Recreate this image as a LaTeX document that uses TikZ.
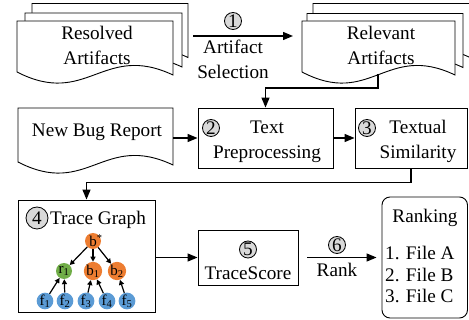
\documentclass[tikz,border=0pt]{standalone}
\usepackage{fontspec}
\setmainfont{Liberation Serif}
\usetikzlibrary{arrows.meta}
\definecolor{numgray}{HTML}{D9D9D9}
\definecolor{bugorange}{HTML}{ED7D31}
\definecolor{reqgreen}{HTML}{70AD47}
\definecolor{fileblue}{HTML}{5B9BD5}
% one sheet of a document: x, top y, width, height of the left side
\newcommand\docsheet[4]{%
  \path[docline] (#1,#2+#4) -- (#1,#2) -- (#1+#3,#2) -- (#1+#3,#2+#4+3)
    .. controls (#1+0.55*#3,#2+#4-30) and (#1+0.45*#3,#2+#4+36) .. (#1,#2+#4) -- cycle;}
\begin{document}
\begin{tikzpicture}[x=1pt,y=-1pt,
  font=\fontsize{19.2}{25}\selectfont,
  docline/.style={draw=black, line width=0.9pt, fill=white},
  box/.style={draw, line width=0.9pt, inner sep=0pt},
  conn/.style={line width=1.3pt, -{Triangle[length=10pt,width=8pt]}},
  num/.style={circle, draw, line width=0.8pt, fill=numgray, inner sep=0pt, minimum size=17pt},
  txt/.style={anchor=base, inner sep=0pt},
  tnode/.style={circle, inner sep=0pt, minimum size=16pt, font=\fontsize{15}{15}\selectfont},
  tedge/.style={line width=1.2pt, -{Triangle[length=5pt,width=5pt]}}
]
\useasboundingbox (0,0) rectangle (469,320);
\clip (0,0) rectangle (469,320);

% --- resolved artifacts (stack of three sheets)
\docsheet{32}{3.5}{156}{51}
\docsheet{25}{13}{157}{51}
\docsheet{17}{21}{156}{51}
\node[txt] (res1) at (97,40) {Resolved};
\node[txt] (res2) at (97,65) {Artifacts};

% --- relevant artifacts (stack of three sheets)
\docsheet{313}{3.5}{157}{51}
\docsheet{307}{13.5}{156}{51}
\docsheet{302}{21}{153}{51}
\node[txt] (rel1) at (381,40) {Relevant};
\node[txt] (rel2) at (381,65) {Artifacts};

% step 1: artifact selection
\coordinate (selfrom) at (193,36);
\coordinate (selto) at (293,36);
\draw[conn] (selfrom) -- (selto);
\node[num] (n1) at (233,21) {1};
\node[txt] (sel1) at (233,54) {Artifact};
\node[txt] (sel2) at (233,79) {Selection};

% --- new bug report
\docsheet{18}{108}{155}{54}
\node[inner sep=0pt, minimum width=155pt, minimum height=54pt] (nbrdoc) at (95.5,135) {};
\node[txt] (nbr) at (97,136.5) {New Bug Report};

% step 2: text preprocessing
\node[box, minimum width=135pt, minimum height=60pt] (tp) at (265.5,138) {};
\node[num] (n2) at (211,128) {2};
\node[txt] (tp1) at (267,134) {Text};
\node[txt] (tp2) at (267,159) {Preprocessing};

% step 3: textual similarity
\node[box, minimum width=112pt, minimum height=60pt] (ts) at (411,138) {};
\node[num] (n3) at (367,128) {3};
\node[txt] (ts1) at (418,134) {Textual};
\node[txt] (ts2) at (418,159) {Similarity};

% connectors of the upper part
\coordinate (relout) at (378,74);
\draw[conn] (relout) -- (378,88) -| (tp.north);
\draw[conn] (nbrdoc.east |- tp.west) -- (tp.west);
\draw[conn] (tp.east) -- (ts.west);

% step 4: trace graph
\node[box, minimum width=137pt, minimum height=112pt] (tg) at (86.5,256) {};
\node[num, minimum size=22pt] (n4) at (37,218) {4};
\node[txt] (tgl) at (98,224.5) {Trace Graph};
\draw[conn] (ts.south) -- ++(0,14) -| (tg.north);

% the graph itself
\node[tnode, fill=bugorange] (bs) at (93,241) {b\rlap{\textsuperscript{*}}};
\node[tnode, fill=reqgreen] (r1) at (64,271) {r\textsubscript{1}};
\node[tnode, fill=bugorange] (b1) at (93,271) {b\textsubscript{1}};
\node[tnode, fill=bugorange] (b2) at (117,271) {b\textsubscript{2}};
\node[tnode, fill=fileblue] (f1) at (45,301) {f\textsubscript{1}};
\node[tnode, fill=fileblue] (f2) at (65,301) {f\textsubscript{2}};
\node[tnode, fill=fileblue] (f3) at (86,301) {f\textsubscript{3}};
\node[tnode, fill=fileblue] (f4) at (107,301) {f\textsubscript{4}};
\node[tnode, fill=fileblue] (f5) at (127,301) {f\textsubscript{5}};
\draw[tedge] (bs) -- (r1);
\draw[tedge] (bs) -- (b1);
\draw[tedge] (bs) -- (b2);
\draw[tedge] (f1) -- (r1);
\draw[tedge] (f2) -- (r1);
\draw[tedge] (f3) -- (b1);
\draw[tedge] (f4) -- (b1);
\draw[tedge] (f5) -- (b2);

% step 5: trace score
\node[box, minimum width=100pt, minimum height=55pt] (tsc) at (248,257.5) {};
\node[num] (n5) at (248,249.5) {5};
\node[txt] (tscl) at (248,279.5) {TraceScore};
\draw[conn] (tg.east |- tsc.west) -- (tsc.west);

% ranking result
\node[box, rounded corners=8pt, minimum width=85.5pt, minimum height=121pt] (rank) at (424.75,257.5) {};
\node[txt] (rk0) at (425,223) {Ranking};
\node[txt, anchor=base west] (rk1) at (385,260) {1. File A};
\node[txt, anchor=base west] (rk2) at (385,281.5) {2. File B};
\node[txt, anchor=base west] (rk3) at (385,303) {3. File C};

% step 6: rank
\draw[conn, shorten <=9pt, shorten >=5pt] (tsc.east) -- (rank.west);
\node[num] (n6) at (337,245) {6};
\node[txt] (rkl) at (337,277) {Rank};
\end{tikzpicture}
\end{document}
